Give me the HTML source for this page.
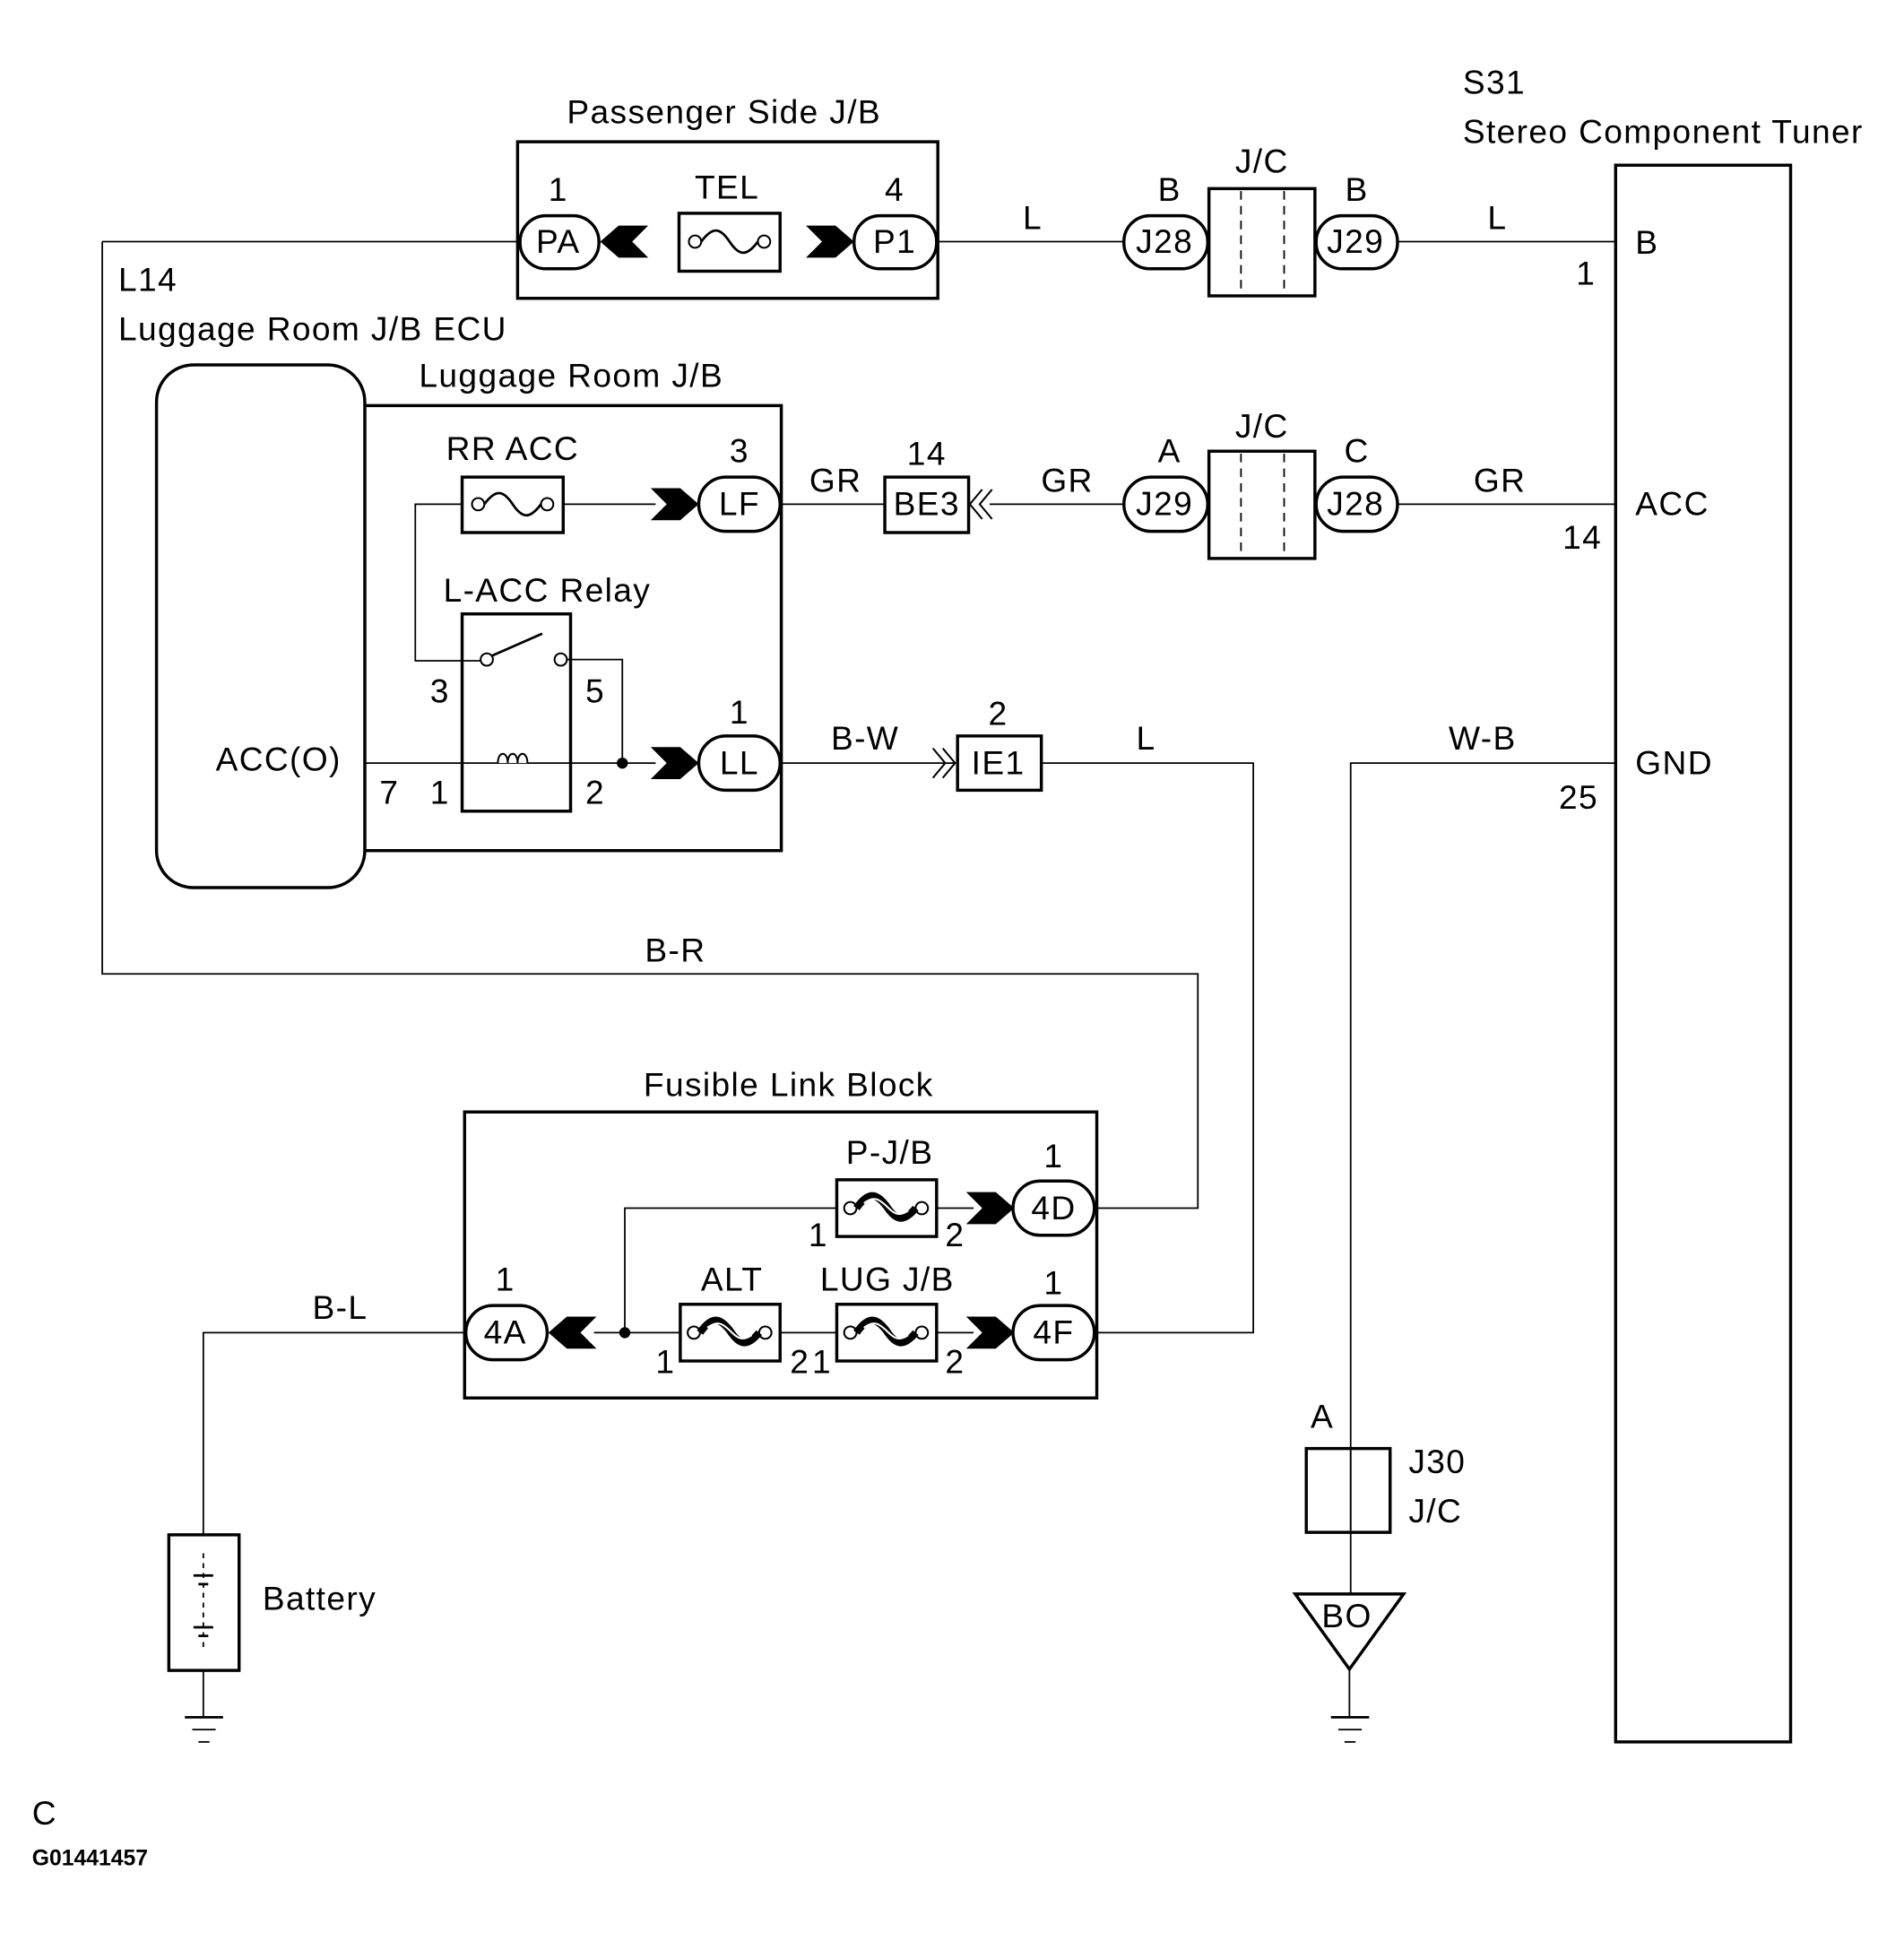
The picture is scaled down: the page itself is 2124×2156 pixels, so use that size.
<!DOCTYPE html>
<html><head><meta charset="utf-8"><style>
html,body{margin:0;padding:0;background:#fff;}
svg{display:block;}
text{font-family:"Liberation Sans",sans-serif;font-size:27px;letter-spacing:1px;fill:#000;}
</style></head><body>
<svg width="2124" height="2156" viewBox="0 0 1545 1568" preserveAspectRatio="none" xmlns="http://www.w3.org/2000/svg">
<defs>
<g id="chR"><polygon points="-2,-13 22,-13 37,0 22,13 -2,13 11,0" fill="#000"/></g>
<g id="chL"><polygon points="37,-13 13,-13 -2,0 13,13 37,13 24,0" fill="#000"/></g>
<g id="fuse"><circle cx="-28" cy="0" r="5" fill="#fff" stroke="#000" stroke-width="1.5"/><circle cx="28" cy="0" r="5" fill="#fff" stroke="#000" stroke-width="1.5"/><path d="M-23,0 C-14,-12 -8,-12 0,0 C8,12 14,12 23,0" fill="none" stroke="#000" stroke-width="2"/></g>
<g id="hfuse"><circle cx="-29" cy="0" r="5" fill="#fff" stroke="#000" stroke-width="1.5"/><circle cx="29" cy="0" r="5" fill="#fff" stroke="#000" stroke-width="1.5"/><path d="M-24,0 C-14,-14 -8,-12 0,-2 C8,10 14,12 24,0" fill="none" stroke="#000" stroke-width="6"/><path d="M-18,-4 C-10,-10 -6,-8 2,0 C8,6 12,6 18,2" fill="none" stroke="#fff" stroke-width="1.5"/></g>
</defs>
<g fill="none" stroke="#000" stroke-width="1.3">
<polyline points="83,196 420,196"/>
<polyline points="83,196 83,790 972,790 972,980 890,980"/>
<line x1="761" y1="196" x2="912" y2="196"/>
<line x1="1134" y1="196" x2="1311" y2="196"/>
<line x1="634" y1="409" x2="718" y2="409"/>
<line x1="803" y1="409" x2="912" y2="409"/>
<line x1="1134" y1="409" x2="1311" y2="409"/>
<line x1="457" y1="409" x2="532" y2="409"/>
<polyline points="375,409 337,409 337,536 392,536"/>
<polyline points="460,535 505,535 505,619"/>
<line x1="296" y1="619" x2="532" y2="619"/>
<line x1="634" y1="619" x2="775" y2="619"/>
<polyline points="845,619 1017,619 1017,1081 890,1081"/>
<polyline points="1311,619 1096,619 1096,1293"/>
<line x1="1095" y1="1354" x2="1095" y2="1393"/>
<polyline points="507,1081 507,980 679,980"/>
<line x1="482" y1="1081" x2="552" y2="1081"/>
<line x1="633" y1="1081" x2="679" y2="1081"/>
<line x1="760" y1="980" x2="790" y2="980"/>
<line x1="760" y1="1081" x2="790" y2="1081"/>
<polyline points="378,1081 165,1081 165,1245"/>
<line x1="165" y1="1355" x2="165" y2="1393"/>
<line x1="150" y1="1393" x2="181" y2="1393" stroke-width="2"/>
<line x1="156" y1="1403" x2="175" y2="1403"/>
<line x1="161" y1="1413" x2="170" y2="1413"/>
<line x1="1080" y1="1393" x2="1111" y2="1393" stroke-width="2"/>
<line x1="1086" y1="1403" x2="1105" y2="1403"/>
<line x1="1091" y1="1413" x2="1100" y2="1413"/>
</g>
<g fill="none" stroke="#000" stroke-width="2.5">
<rect x="420" y="115" width="341" height="127"/>
<rect x="296" y="329" width="338" height="361"/>
<rect x="127" y="296" width="169" height="424" rx="30" fill="#fff"/>
<rect x="377" y="902" width="513" height="232"/>
<rect x="1311" y="134" width="142" height="1279"/>
<rect x="981" y="153" width="86" height="87"/>
<rect x="981" y="366" width="86" height="87"/>
<rect x="551" y="173" width="82" height="47"/>
<rect x="375" y="387" width="82" height="45"/>
<rect x="375" y="498" width="88" height="160"/>
<rect x="718" y="387" width="68" height="45"/>
<rect x="777" y="597" width="68" height="44"/>
<rect x="679" y="957" width="81" height="46"/>
<rect x="552" y="1058" width="81" height="46"/>
<rect x="679" y="1058" width="81" height="46"/>
<rect x="1060" y="1175" width="68" height="68"/>
<rect x="137" y="1245" width="57" height="110"/>
<polygon points="1051,1293 1139,1293 1095,1354"/>
<rect x="422" y="175" width="64" height="43" rx="21"/>
<rect x="693" y="175" width="67" height="43" rx="21"/>
<rect x="912" y="175" width="68" height="43" rx="21"/>
<rect x="1068" y="175" width="66" height="43" rx="21"/>
<rect x="567" y="387" width="66" height="44" rx="22"/>
<rect x="912" y="387" width="68" height="44" rx="22"/>
<rect x="1068" y="387" width="66" height="44" rx="22"/>
<rect x="567" y="597" width="66" height="44" rx="22"/>
<rect x="822" y="958" width="66" height="44" rx="22"/>
<rect x="822" y="1059" width="66" height="44" rx="22"/>
<rect x="378" y="1059" width="66" height="44" rx="22"/>
</g>
<g stroke="#000" stroke-width="1.3" stroke-dasharray="7,5">
<line x1="1007" y1="155" x2="1007" y2="238"/><line x1="1042" y1="155" x2="1042" y2="238"/>
<line x1="1007" y1="368" x2="1007" y2="451"/><line x1="1042" y1="368" x2="1042" y2="451"/>
<line x1="1096" y1="1177" x2="1096" y2="1241" stroke-dasharray="none"/>
<line x1="165" y1="1260" x2="165" y2="1340" stroke-dasharray="4,4"/>
</g>
<g stroke="#000" stroke-width="2">
<line x1="157" y1="1278" x2="173" y2="1278"/><line x1="161" y1="1285" x2="169" y2="1285"/>
<line x1="157" y1="1320" x2="173" y2="1320"/><line x1="161" y1="1327" x2="169" y2="1327"/>
</g>
<circle cx="395" cy="535" r="5" fill="#fff" stroke="#000" stroke-width="1.5"/>
<circle cx="455" cy="535" r="5" fill="#fff" stroke="#000" stroke-width="1.5"/>
<line x1="399" y1="532" x2="440" y2="514" stroke="#000" stroke-width="2"/>
<path d="M404,619 c0,-10 8,-10 8,0 c0,-10 8,-10 8,0 c0,-10 8,-10 8,0" fill="#fff" stroke="#000" stroke-width="1.5"/>
<circle cx="505" cy="619" r="4.5" fill="#000"/>
<circle cx="507" cy="1081" r="4.5" fill="#000"/>
<use href="#fuse" x="592" y="196"/>
<use href="#fuse" x="416" y="409"/>
<use href="#hfuse" x="719" y="980"/>
<use href="#hfuse" x="592" y="1081"/>
<use href="#hfuse" x="719" y="1081"/>
<use href="#chL" x="489" y="196"/>
<use href="#chR" x="656" y="196"/>
<use href="#chR" x="530" y="409"/>
<use href="#chR" x="530" y="619"/>
<use href="#chR" x="786" y="980"/>
<use href="#chR" x="786" y="1081"/>
<use href="#chL" x="447" y="1081"/>
<path d="M797,397 L787,409 L797,421 M805,397 L795,409 L805,421" fill="none" stroke="#000" stroke-width="1.5"/>
<path d="M757,607 L767,619 L757,631 M765,607 L775,619 L765,631" fill="none" stroke="#000" stroke-width="1.5"/>
<text x="460" y="100">Passenger Side J/B</text>
<text x="1187" y="76">S31</text>
<text x="1187" y="116">Stereo Component Tuner</text>
<text x="96" y="236">L14</text>
<text x="96" y="276">Luggage Room J/B ECU</text>
<text x="340" y="314">Luggage Room J/B</text>
<g text-anchor="middle">
<text x="453" y="163">1</text><text x="453" y="205">PA</text>
<text x="590" y="161">TEL</text>
<text x="726" y="163">4</text><text x="726" y="205">P1</text>
<text x="838" y="186">L</text>
<text x="949" y="163">B</text><text x="945" y="205">J28</text>
<text x="1024" y="140">J/C</text>
<text x="1101" y="163">B</text><text x="1100" y="205">J29</text>
<text x="1215" y="186">L</text>
<text x="416" y="373">RR ACC</text>
<text x="600" y="375">3</text><text x="600" y="418">LF</text>
<text x="678" y="399">GR</text>
<text x="752" y="377">14</text><text x="752" y="418">BE3</text>
<text x="866" y="399">GR</text>
<text x="949" y="375">A</text><text x="945" y="418">J29</text>
<text x="1024" y="355">J/C</text>
<text x="1101" y="375">C</text><text x="1100" y="418">J28</text>
<text x="1217" y="399">GR</text>
<text x="444" y="488">L-ACC Relay</text>
<text x="357" y="570">3</text><text x="483" y="570">5</text>
<text x="316" y="652">7</text><text x="357" y="652">1</text><text x="483" y="652">2</text>
<text x="600" y="587">1</text><text x="600" y="628">LL</text>
<text x="702" y="608">B-W</text>
<text x="810" y="588">2</text><text x="810" y="628">IE1</text>
<text x="930" y="608">L</text>
<text x="1203" y="608">W-B</text>
<text x="548" y="780">B-R</text>
<text x="640" y="889">Fusible Link Block</text>
<text x="722" y="944">P-J/B</text>
<text x="855" y="947">1</text><text x="855" y="989">4D</text>
<text x="664" y="1011">1</text><text x="775" y="1011">2</text>
<text x="594" y="1047">ALT</text>
<text x="720" y="1047">LUG J/B</text>
<text x="855" y="1050">1</text><text x="855" y="1090">4F</text>
<text x="410" y="1047">1</text><text x="410" y="1090">4A</text>
<text x="540" y="1114">1</text><text x="649" y="1114">2</text><text x="667" y="1114">1</text><text x="775" y="1114">2</text>
<text x="276" y="1070">B-L</text>
<text x="1073" y="1158">A</text>
<text x="1093" y="1320">BO</text>
<text x="1287" y="231">1</text>
<text x="1284" y="445">14</text>
<text x="1281" y="656">25</text>
</g>
<text x="1327" y="206">B</text>
<text x="1327" y="418">ACC</text>
<text x="1327" y="628">GND</text>
<text x="175" y="625">ACC(O)</text>
<text x="1143" y="1195">J30</text>
<text x="1143" y="1235">J/C</text>
<text x="213" y="1306">Battery</text>
<text x="26" y="1480">C</text>
<text x="26" y="1513" style="font-size:18px;font-weight:bold;letter-spacing:0">G01441457</text>
</svg>
</body></html>
